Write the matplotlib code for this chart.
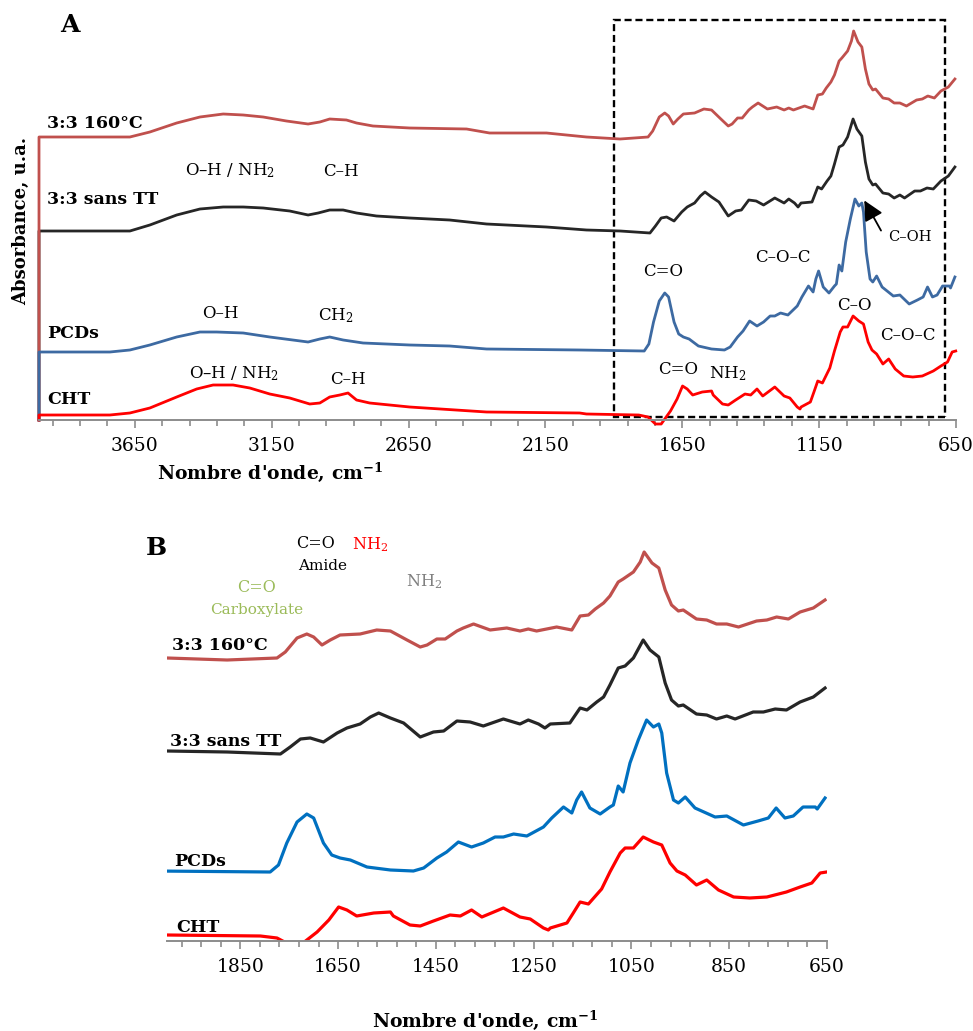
import numpy as np
import matplotlib
matplotlib.use("Agg")
import matplotlib.pyplot as plt
from matplotlib.patches import Rectangle
from matplotlib.ticker import FixedLocator

plt.rcParams['font.family'] = ['DejaVu Serif']
plt.rcParams['mathtext.fontset'] = 'dejavuserif'

# spectra (wavenumber cm-1, absorbance in arbitrary offset units)
s160_wn = [4000, 4000, 3741, 3668, 3595, 3497, 3412, 3327, 3254, 3181, 3096, 3017, 2974, 2938, 2877,
           2840, 2780, 2646, 2438, 2354, 2146, 2000, 1877, 1775, 1758, 1734, 1714, 1700, 1683, 1666,
           1646, 1605, 1571, 1543, 1509, 1482, 1468, 1448, 1431, 1407, 1394, 1373, 1339, 1305, 1278,
           1261, 1244, 1203, 1172, 1155, 1138, 1124, 1107, 1094, 1077, 1067, 1046, 1032, 1024, 1008,
           994, 981, 968, 954, 944, 917, 896, 876, 855, 831, 794, 773, 753, 729, 705, 678, 654]
s160_ab = [0, 283, 283, 283, 288, 297, 303, 306, 305, 303, 299, 296, 298, 301, 300,
           297, 294, 292, 291, 287, 287, 283, 281, 283, 289, 303, 307, 304, 296, 301,
           306, 307, 311, 310, 301, 294, 296, 302, 302, 310, 313, 317, 311, 313, 310,
           312, 310, 314, 311, 325, 326, 332, 338, 345, 359, 362, 369, 379, 389, 378,
           373, 351, 336, 330, 331, 322, 321, 317, 317, 314, 320, 321, 324, 322, 329, 333, 341]

stt_wn = [4000, 4000, 3741, 3668, 3595, 3497, 3412, 3327, 3254, 3181, 3084, 3017, 2980, 2938, 2889,
          2840, 2767, 2646, 2500, 2365, 2146, 2000, 1877, 1768, 1748, 1727, 1707, 1680, 1652, 1632,
          1605, 1584, 1567, 1543, 1516, 1482, 1455, 1434, 1407, 1380, 1353, 1312, 1278, 1261, 1240,
          1227, 1216, 1176, 1155, 1141, 1121, 1107, 1094, 1077, 1063, 1046, 1026, 1012, 994, 981,
          968, 954, 944, 917, 896, 876, 855, 838, 801, 780, 756, 733, 705, 678, 654]
stt_ab = [0, 189, 189, 189, 195, 205, 211, 213, 213, 212, 209, 205, 207, 210, 210,
          207, 204, 202, 200, 196, 193, 190, 189, 187, 194, 202, 203, 199, 208, 213,
          217, 224, 228, 223, 218, 204, 209, 210, 220, 219, 215, 222, 217, 221, 217,
          213, 217, 218, 233, 231, 239, 244, 256, 273, 275, 283, 301, 291, 284, 258,
          241, 235, 236, 227, 226, 222, 225, 222, 229, 229, 232, 231, 239, 244, 253]

pcd_wn = [4000, 4000, 3741, 3668, 3595, 3497, 3412, 3351, 3254, 3157, 3017, 2974, 2938, 2889, 2816,
          2646, 2500, 2365, 2025, 1789, 1772, 1755, 1734, 1714, 1700, 1680, 1663, 1646, 1625, 1591,
          1543, 1496, 1475, 1448, 1428, 1404, 1377, 1353, 1329, 1312, 1291, 1264, 1230, 1213, 1189,
          1172, 1162, 1152, 1135, 1114, 1094, 1087, 1077, 1067, 1053, 1036, 1019, 1005, 994, 988,
          978, 964, 954, 940, 920, 879, 855, 821, 791, 770, 754, 736, 719, 699, 674, 670, 654]
pcd_ab = [0, 68, 68, 70, 75, 83, 88, 88, 87, 83, 78, 81, 83, 80, 77,
          75, 74, 71, 70, 69, 76, 98, 119, 127, 123, 98, 86, 83, 81, 74,
          71, 70, 73, 83, 89, 99, 94, 98, 104, 104, 107, 105, 114, 123, 134,
          128, 141, 149, 133, 127, 134, 136, 155, 149, 178, 201, 221, 214, 217, 208,
          168, 141, 138, 144, 133, 124, 125, 116, 120, 123, 133, 123, 125, 134, 134, 132, 143]

cht_wn = [4000, 4000, 3741, 3668, 3595, 3497, 3424, 3364, 3291, 3230, 3157, 3084, 3011, 2974, 2938,
          2901, 2871, 2840, 2792, 2646, 2365, 2025, 2000, 1809, 1775, 1748, 1727, 1693, 1669, 1649,
          1632, 1612, 1577, 1543, 1537, 1503, 1482, 1455, 1421, 1400, 1377, 1356, 1312, 1278, 1257,
          1230, 1220, 1216, 1182, 1169, 1155, 1138, 1111, 1094, 1073, 1063, 1046, 1026, 1005, 988,
          971, 957, 940, 917, 896, 872, 841, 808, 773, 733, 705, 681, 664, 651]
cht_ab = [0, 5, 5, 7, 12, 23, 31, 35, 35, 32, 26, 22, 16, 17, 23,
          25, 27, 20, 17, 13, 8, 7, 6, 5, 3, -4, -4, 9, 21, 34,
          31, 25, 28, 29, 25, 16, 15, 20, 26, 25, 31, 24, 33, 24, 22,
          13, 11, 13, 18, 28, 39, 37, 52, 69, 88, 93, 93, 104, 99, 96,
          78, 70, 66, 56, 61, 51, 44, 43, 44, 49, 54, 58, 68, 69]

names = ['3:3 160°C', '3:3 sans TT', 'PCDs', 'CHT']
colors_a = ['#C0504D', '#262626', '#3D6AA2', '#FF0000']
colors_b = ['#C0504D', '#262626', '#0070C0', '#FF0000']
series = [(s160_wn, s160_ab), (stt_wn, stt_ab), (pcd_wn, pcd_ab), (cht_wn, cht_ab)]
draw_order = [1, 0, 2, 3]

fig = plt.figure(figsize=(9.73, 10.31), dpi=100)
W, H = 973, 1031
axA = fig.add_axes([39 / W, 1 - 420 / H, 917 / W, 410 / H])
axB = fig.add_axes([167 / W, 1 - 941 / H, 660 / W, 410 / H])

for i in draw_order:
    wn, ab = series[i]
    axA.plot(wn, ab, color=colors_a[i], lw=2.0, clip_on=False, solid_joinstyle='round')
    axB.plot(wn, ab, color=colors_b[i], lw=2.3, solid_joinstyle='round')

for ax in (axA, axB):
    ax.set_ylim(0, 410)
    for s in ('left', 'top', 'right'):
        ax.spines[s].set_visible(False)
    ax.spines['bottom'].set_color('#8c8c8c')
    ax.spines['bottom'].set_linewidth(1.4)
    ax.set_yticks([])
    ax.tick_params(axis='x', which='major', direction='out', length=6, width=1.2,
                   color='#8c8c8c', labelsize=13.5, pad=6)
    ax.tick_params(axis='x', which='minor', direction='out', length=4, width=1.2, color='#8c8c8c')

axA.set_xlim(4000, 650)
axA.xaxis.set_major_locator(FixedLocator(np.arange(3650, 649, -500)))
axA.xaxis.set_minor_locator(FixedLocator(np.arange(3950, 649, -100)))
axB.set_xlim(2000, 650)
axB.xaxis.set_major_locator(FixedLocator(np.arange(1850, 649, -200)))
axB.xaxis.set_minor_locator(FixedLocator(np.arange(1970, 649, -40)))

# panel A labels
lab_y_a = [297, 220, 87, 20]
for n, y in zip(names, lab_y_a):
    axA.text(3971, y, n, ha='left', va='center', fontsize=12.5, fontweight='bold')
axA.text(3887, 395, 'A', ha='center', va='center', fontsize=18, fontweight='bold')

ann_a = [('O–H / NH$_2$', 3303, 249), ('C–H', 2898, 248), ('O–H', 3336, 107), ('CH$_2$', 2916, 104),
         ('O–H / NH$_2$', 3288, 46), ('C–H', 2872, 40), ('C=O', 1719, 148), ('C–O–C', 1281, 163),
         ('C–O', 1022, 115), ('C–O–C', 824, 84), ('C=O', 1664, 51), ('NH$_2$', 1485, 46)]
for t, x, y in ann_a:
    axA.text(x, y, t, ha='center', va='center', fontsize=12)
axA.text(817, 183, 'C–OH', ha='center', va='center', fontsize=10.5)
axA.annotate('', xy=(990, 222), xytext=(919, 187),
             arrowprops=dict(arrowstyle='-|>,head_length=0.6,head_width=0.3', color='black',
                             lw=1.3, mutation_scale=20))
axA.add_patch(Rectangle((690, 3), 1900 - 690, 397, fill=False, ls=(0, (3, 1.6)), lw=1.7,
                        ec='black', clip_on=False))
axA.text(-0.019, 0.485, 'Absorbance, u.a.', transform=axA.transAxes, rotation=90,
         ha='center', va='center', fontsize=13, fontweight='bold')
fig.text(270 / W, 1 - 472 / H, "Nombre d'onde, cm$^{\\mathbf{-1}}$", ha='center', va='center',
         fontsize=13.5, fontweight='bold')

# panel B labels
lab_x_b = [1989, 1993, 1985, 1981]
lab_y_b = [295, 200, 80, 14]
for n, x, y in zip(names, lab_x_b, lab_y_b):
    axB.text(x, y, n, ha='left', va='center', fontsize=12.5, fontweight='bold')
axB.text(2022, 393, 'B', ha='center', va='center', fontsize=18, fontweight='bold')
ann_b = [('C=O', 1697, 398, '#000000', 11.5), ('Amide', 1682, 375, '#000000', 11),
         ('NH$_2$', 1584, 396, '#FF0000', 11.5), ('C=O', 1817, 354, '#9BBB59', 11.5),
         ('Carboxylate', 1817, 331, '#9BBB59', 11), ('NH$_2$', 1474, 359, '#808080', 11.5)]
for t, x, y, c, fs in ann_b:
    axB.text(x, y, t, ha='center', va='center', fontsize=fs, color=c)
fig.text(485 / W, 1 - 1020 / H, "Nombre d'onde, cm$^{\\mathbf{-1}}$", ha='center', va='center',
         fontsize=13.5, fontweight='bold')

fig.savefig('out.png', dpi=100)
